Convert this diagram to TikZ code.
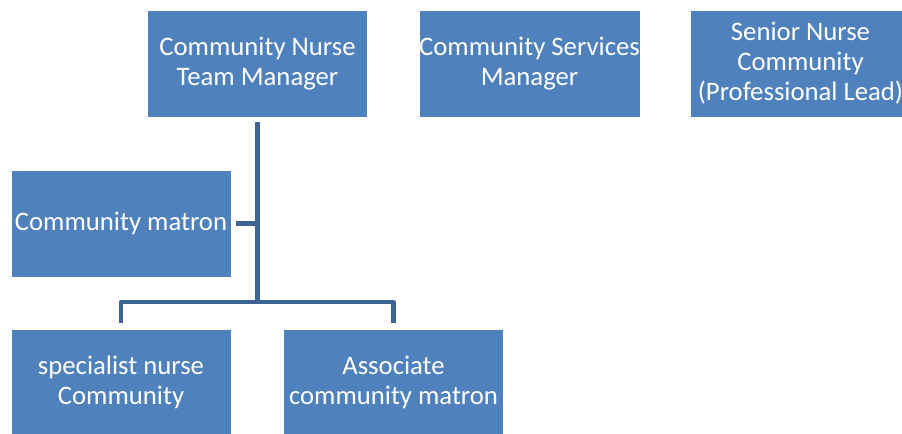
\documentclass[tikz,border=0pt]{standalone}
\usepackage{fontspec}
\setmainfont{Carlito}
\usetikzlibrary{positioning}
\definecolor{boxblue}{RGB}{79,129,189}
\definecolor{lineblue}{RGB}{62,100,150}
\tikzset{
  post/.style={rectangle,fill=boxblue,draw=white,very thin,text=white,align=center,
    minimum width=5.5cm,minimum height=2.675cm,inner xsep=0pt,
    font=\fontsize{19}{21.4}\selectfont},
  link/.style={draw=lineblue,line width=3.3pt,line join=round}
}

\begin{document}
\begin{tikzpicture}[x=0.025cm,y=-0.025cm]
\useasboundingbox (0,0) rectangle (902,434);
\clip (0,0) rectangle (902,434);
% top row
\node[post] (cntm) at (257.5,63.5) {Community Nurse\\Team Manager};
\node[post] (csm) at (529.5,63.5) {Community Services\\Manager};
\node[post] (snc) at (800.5,63.5) {Senior Nurse\\Community\\(Professional Lead)};
% team
\node[post] (matron) at (121,223.5) {Community matron};
\node[post] (spec) at (121,382.5) {specialist nurse\\Community};
\node[post] (assoc) at (393.5,382.5) {Associate\\community matron};

\coordinate (bus) at (257,302);
\draw[link,shorten <=3.6pt] (cntm.south) -- (cntm.south |- bus);
\draw[link,shorten <=3.6pt] (matron.east) -- (matron.east -| cntm.south);
\draw[link,shorten <=4.3pt,shorten >=4.3pt] (spec.north) -- (spec.north |- bus) -- (assoc.north |- bus) -- (assoc.north);

\end{tikzpicture}
\end{document}
